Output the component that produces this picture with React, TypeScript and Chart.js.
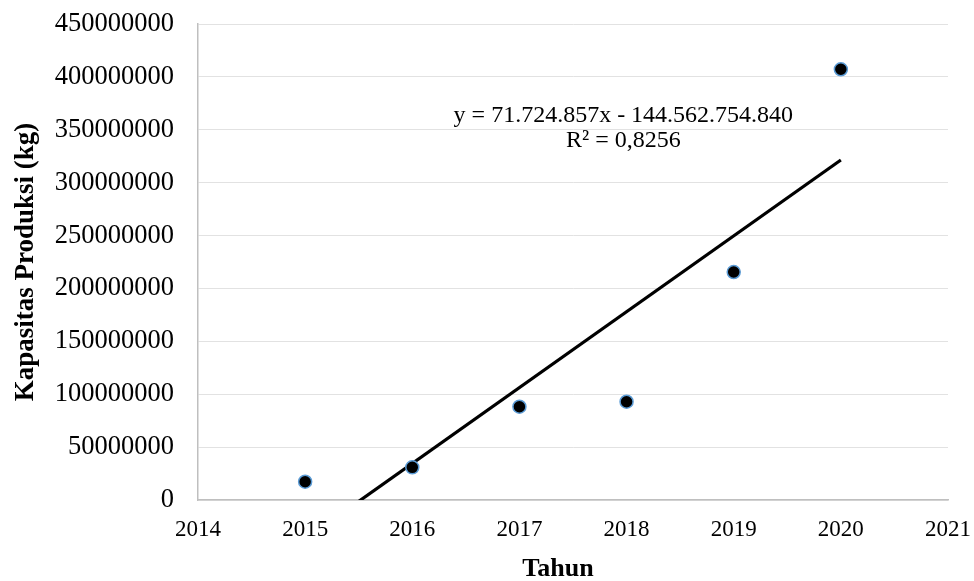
import React, { useEffect, useRef } from "react";
import { Chart, registerables } from "chart.js";

Chart.register(...registerables);

// ---- data ----
const years = [2015, 2016, 2017, 2018, 2019, 2020];
const production = [17300000, 30900000, 88200000, 92900000, 215500000, 407200000];

// linear trendline as printed on the chart
const trendSlope = 71724857;
const trendIntercept = -144562754840;
const trendRange = [2015, 2020];

const xMin = 2014;
const xMax = 2021;
const yMin = 0;
const yMax = 450000000;
const yStep = 50000000;

const equationLines = ["y = 71.724.857x - 144.562.754.840", "R² = 0,8256"];
const equationAnchorX = 2017.97;
const equationAnchorY = [363000000, 339400000];

const xTitle = "Tahun";
const xTitleAnchor = 2017.36;
const yTitle = "Kapasitas Produksi (kg)";

const SERIF = "'Liberation Serif', 'Times New Roman', serif";

const textPlugin = {
  id: "equationText",
  afterDraw(chart: any) {
    const { ctx, scales, height } = chart;
    ctx.save();
    ctx.fillStyle = "#000";
    ctx.textAlign = "center";
    ctx.textBaseline = "middle";
    ctx.font = `24px ${SERIF}`;
    const x = scales.x.getPixelForValue(equationAnchorX);
    equationLines.forEach((line, i) => {
      ctx.fillText(line, x, scales.y.getPixelForValue(equationAnchorY[i]));
    });
    ctx.font = `bold 26px ${SERIF}`;
    ctx.fillText(xTitle, scales.x.getPixelForValue(xTitleAnchor), height - 12);
    ctx.restore();
  },
};

export default function App() {
  const canvasRef = useRef<HTMLCanvasElement | null>(null);

  useEffect(() => {
    if (!canvasRef.current) return;
    const points = years.map((yr, i) => ({ x: yr, y: production[i] }));
    const trend = trendRange.map((xv) => ({ x: xv, y: trendSlope * xv + trendIntercept }));

    const chart = new Chart(canvasRef.current, {
      type: "scatter",
      data: {
        datasets: [
          {
            type: "scatter",
            label: "Kapasitas",
            data: points,
            backgroundColor: "#000000",
            borderColor: "#5b9bd5",
            borderWidth: 1.5,
            pointRadius: 6.5,
            order: 1,
          } as any,
          {
            type: "line",
            label: "Linear",
            data: trend,
            borderColor: "#000000",
            borderWidth: 3.2,
            pointRadius: 0,
            fill: false,
            order: 2,
          } as any,
        ],
      },
      options: {
        animation: false,
        responsive: true,
        maintainAspectRatio: false,
        layout: { padding: { top: 24, right: 26, left: 0, bottom: 0 } },
        plugins: {
          legend: { display: false },
          tooltip: { enabled: false },
        },
        scales: {
          x: {
            type: "linear",
            min: xMin,
            max: xMax,
            afterFit: (s: any) => {
              s.height = 81;
            },
            ticks: {
              stepSize: 1,
              padding: 2,
              color: "#000",
              font: { family: SERIF, size: 23 },
              callback: (v: any) => String(v),
            },
            grid: { color: "rgba(0,0,0,0)", drawTicks: true, tickLength: 14, tickColor: "rgba(0,0,0,0)" },
            border: { display: true, color: "#bfbfbf", width: 1.5 },
            title: { display: false },
          },
          y: {
            type: "linear",
            min: yMin,
            max: yMax,
            afterFit: (s: any) => {
              s.width = 198;
            },
            ticks: {
              stepSize: yStep,
              padding: 2,
              color: "#000",
              font: { family: SERIF, size: 26.5 },
              callback: (v: any) => String(v),
            },
            grid: { color: "#e2e2e2", lineWidth: 1, drawTicks: true, tickLength: 22, tickColor: "rgba(0,0,0,0)" },
            border: { display: true, color: "#bfbfbf", width: 1.5 },
            title: {
              display: true,
              text: yTitle,
              color: "#000",
              font: { family: SERIF, size: 27, weight: "bold", lineHeight: 1.2 },
              padding: { top: 10, bottom: 0 },
            },
          },
        },
      },
      plugins: [textPlugin],
    });
    return () => chart.destroy();
  }, []);

  return (
    <div style={{ position: "absolute", left: 0, top: 0, width: 974, height: 581, background: "#fff" }}>
      <canvas ref={canvasRef} />
    </div>
  );
}
